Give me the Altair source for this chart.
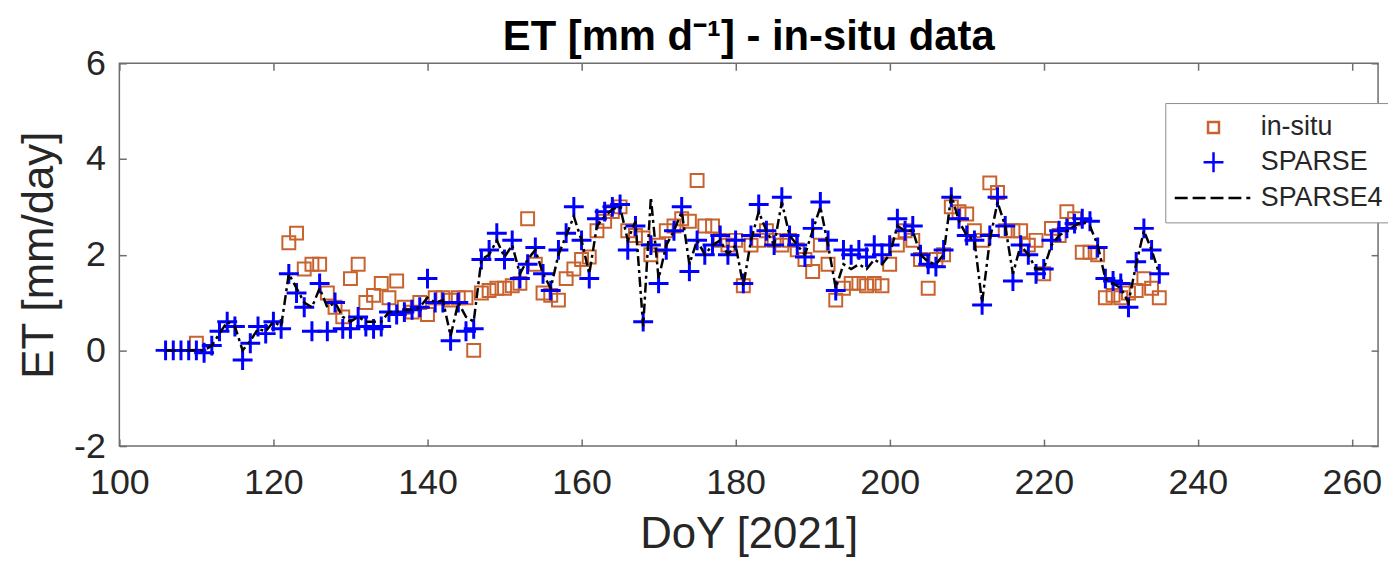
import altair as alt
import pandas as pd

# ---------------- data ----------------
doy_sparse = list(range(106, 236))
et_sparse = [
    0, 0, 0, 0, 0, -0.05, 0.1, 0.4, 0.6, 0.5,
    -0.2, 0.15, 0.5, 0.35, 0.6, 0.45, 1.6, 1.2, 0.9, 0.4,
    1.4, 0.4, 1.0, 0.45, 0.45, 0.7, 0.5, 0.45, 0.5, 0.8,
    0.75, 0.8, 0.85, 0.9, 1.5, 1.0, 1.0, 0.2, 1.0, 0.4,
    0.45, 1.9, 2.1, 2.45, 1.9, 2.3, 1.5, 1.8, 2.15, 1.6,
    1.25, 2.1, 2.45, 3.0, 2.3, 1.5, 2.75, 2.9, 3.0, 3.05,
    2.1, 2.6, 0.6, 2.2, 1.4, 2.1, 2.5, 3.0, 1.65, 2.3,
    2.0, 2.2, 2.4, 2.0, 2.3, 1.4, 2.4, 3.05, 2.5, 2.2,
    3.2, 2.4, 2.2, 1.95, 2.55, 3.1, 2.3, 1.25, 2.1, 2.0,
    2.1, 1.95, 2.2, 2.0, 2.2, 2.75, 2.5, 2.6, 2.0, 1.8,
    1.75, 2.1, 3.2, 2.75, 2.4, 2.3, 0.95, 2.4, 3.2, 2.6,
    1.45, 2.2, 2.0, 1.6, 1.7, 2.3, 2.5, 2.55, 2.65, 2.75,
    2.7, 2.15, 1.5, 1.45, 1.4, 0.9, 1.85, 2.55, 2.1, 1.6,
]
et_sparse4 = [
    0, 0, 0, 0, 0, 0, 0.1, 0.35, 0.6, 0.5,
    0.0, 0.2, 0.45, 0.4, 0.6, 0.5, 1.6, 1.3, 1.0, 0.9,
    1.3, 0.9, 1.0, 0.7, 0.6, 0.7, 0.6, 0.6, 0.6, 0.8,
    0.8, 0.85, 0.85, 0.9, 1.1, 1.0, 1.05, 0.3, 1.0, 0.7,
    0.6, 1.9, 2.0, 2.3, 1.95, 2.2, 1.6, 1.9, 2.1, 1.6,
    1.3, 2.0, 2.4, 2.8, 2.3, 1.6, 2.6, 2.8, 2.95, 3.0,
    2.3, 2.7, 0.5, 3.2, 1.5, 2.2, 2.5, 2.9, 1.8, 2.3,
    2.0, 2.2, 2.3, 2.0, 2.2, 1.35, 2.3, 2.9, 2.5, 2.2,
    3.1, 2.4, 2.2, 2.0, 2.5, 3.0, 2.2, 1.3, 1.8, 1.7,
    1.8, 1.7, 1.9, 1.8, 2.0, 2.6, 2.5, 2.5, 2.0, 1.85,
    1.8, 2.0, 3.25, 2.7, 2.4, 2.3, 1.0, 2.3, 3.1, 2.6,
    1.6, 2.2, 2.0, 1.7, 1.7, 2.2, 2.4, 2.5, 2.6, 2.7,
    2.6, 2.2, 1.5, 1.4, 1.3, 1.0, 1.8, 2.5, 2.1, 1.6,
]
doy_insitu = [110] + list(range(122, 236))
et_insitu = [
    0.15,
    2.25, 2.45, 1.7, 1.8, 1.8, 1.2, 0.9, 0.7, 1.5, 1.8,
    1.0, 1.15, 1.4, 1.1, 1.45, 0.9, 0.8, 1.0, 0.75, 1.1,
    1.1, 1.05, 1.1, 1.1, 0.0, 1.2, 1.25, 1.3, 1.3, 1.35,
    1.4, 2.75, 1.8, 1.2, 1.15, 1.05, 1.5, 1.7, 1.9, 1.95,
    2.5, 2.7, 2.9, 3.0, 2.5, 2.4, 2.35, 2.0, 2.2, 2.5,
    2.6, 2.75, 2.7, 3.55, 2.6, 2.6, 2.3, 2.2, 2.3, 1.35,
    2.2, 2.3, 2.5, 2.3, 2.2, 2.3, 2.1, 1.9, 1.65, 2.2,
    1.8, 1.05, 1.3, 1.4, 1.4, 1.35, 1.4, 1.35, 1.8, 2.2,
    2.5, 2.3, 1.9, 1.3, 1.9, 2.0, 3.0, 2.9, 2.85, 2.5,
    2.3, 3.5, 3.3, 2.5, 2.5, 2.5, 2.2, 2.3, 1.6, 2.55,
    2.4, 2.9, 2.75, 2.05, 2.05, 2.0, 1.1, 1.15, 1.1, 1.2,
    1.25, 1.5, 1.3, 1.1,
]
series_names = ["in-situ", "SPARSE", "SPARSE4"]
x_ticks = [100, 120, 140, 160, 180, 200, 220, 240, 260]
y_ticks = [-2, 0, 2, 4, 6]

# ---------------- tables ----------------
df_ins = pd.DataFrame({"doy": doy_insitu, "et": et_insitu, "series": "in-situ"})
df_sp = pd.DataFrame({"doy": doy_sparse, "et": et_sparse, "series": "SPARSE"})
df_s4 = pd.DataFrame({"doy": doy_sparse, "et": et_sparse4, "series": "SPARSE4"})

FONT = "Liberation Sans"
TXT = "#262626"
AX = "#6e6e6e"

SQUARE = "M-0.55,-0.55H0.55V0.55H-0.55Z"
PLUS = "M-1,0H1M0,-1V1"
DASHDOT = "M-3.9,0H-2.6M-2.1,0H-0.8M-0.3,0H1.0M1.5,0H2.8M3.3,0H3.7"

color_scale = alt.Scale(domain=series_names, range=["#c8632f", "#0000ff", "#000000"])
shape_scale = alt.Scale(domain=series_names, range=[SQUARE, PLUS, DASHDOT])

xs = alt.Scale(domain=[100, 263.4], nice=False)
ys = alt.Scale(domain=[-2, 6], nice=False)

legend = alt.Legend(
    title=None, orient="none", legendX=1052, legendY=40,
    fillColor="white", strokeColor="#8c8c8c", padding=11,
    symbolSize=400, symbolStrokeWidth=2.5, symbolOffset=24,
    labelOffset=34, labelFontSize=27, labelFont=FONT, labelColor=TXT,
    rowPadding=6,
)

x_bottom = alt.X(
    "doy:Q", scale=xs,
    axis=alt.Axis(
        values=x_ticks, title="DoY [2021]", grid=False, domain=False,
        offset=-7, tickSize=7, tickColor=AX, tickWidth=1.5,
        labelFontSize=36, labelFont=FONT, labelColor=TXT, labelPadding=20,
        labelFlush=False, titleFontSize=44, titleFont=FONT,
        titleFontWeight="normal", titleColor=TXT, titlePadding=12,
    ),
)
y_left = alt.Y(
    "et:Q", scale=ys,
    axis=alt.Axis(
        values=y_ticks, title="ET [mm/day]", grid=False, domain=False,
        offset=-7, tickSize=7, tickColor=AX, tickWidth=1.5,
        labelFontSize=36, labelFont=FONT, labelColor=TXT, labelPadding=14,
        labelExpr="'' + datum.value", labelFlush=False,
        titleFontSize=44, titleFont=FONT, titleFontWeight="normal",
        titleColor=TXT, titlePadding=12,
    ),
)
x_top = alt.X(
    "doy:Q", scale=xs,
    axis=alt.Axis(
        orient="top", values=x_ticks, title=None, labels=False, grid=False,
        domain=False, offset=-7, tickSize=7, tickColor=AX, tickWidth=1.5,
    ),
)
y_right = alt.Y(
    "et:Q", scale=ys,
    axis=alt.Axis(
        orient="right", values=y_ticks, title=None, labels=False, grid=False,
        domain=False, offset=-7, tickSize=7, tickColor=AX, tickWidth=1.5,
    ),
)

insitu = alt.Chart(df_ins).mark_point(
    filled=False, size=558, strokeWidth=2, opacity=1
).encode(
    x=x_bottom, y=y_left,
    color=alt.Color("series:N", scale=color_scale, legend=legend),
    shape=alt.Shape("series:N", scale=shape_scale, legend=legend),
)

sparse = alt.Chart(df_sp).mark_point(
    filled=False, size=400, strokeWidth=3, opacity=1
).encode(
    x=x_bottom, y=y_left,
    color=alt.Color("series:N", scale=color_scale, legend=legend),
    shape=alt.Shape("series:N", scale=shape_scale, legend=legend),
)

sparse4 = alt.Chart(df_s4).mark_line(
    color="black", strokeWidth=2.5, strokeDash=[10, 4, 3, 4]
).encode(
    x=x_top, y=y_right, order="doy:Q",
)

main = alt.layer(insitu, sparse)

chart = alt.layer(main, sparse4).resolve_axis(
    x="independent", y="independent"
).properties(
    width=1266, height=385,
    autosize=alt.AutoSizeParams(type="none"),
    padding={"left": 112, "top": 54, "right": 10, "bottom": 118},
    title=alt.TitleParams(
        text="ET [mm d⁻¹] - in-situ data", fontSize=42, font=FONT,
        fontWeight="bold", color="#000000", anchor="middle", offset=10, dy=24,
    ),
    background="white",
).configure_view(
    stroke=AX, strokeWidth=1.5
)

chart.save("out.html", embed_options={"renderer": "svg", "actions": False})
